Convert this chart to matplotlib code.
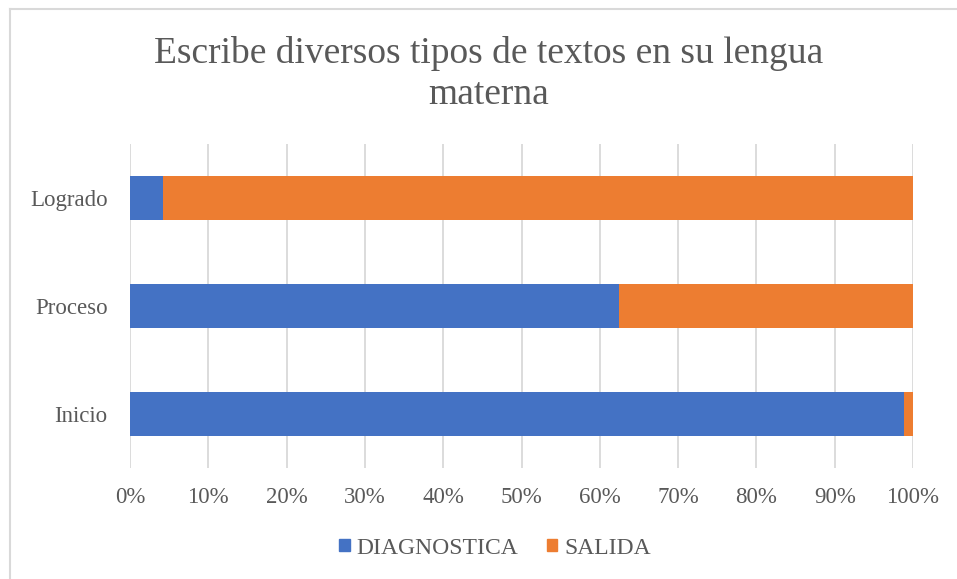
import matplotlib
matplotlib.use("Agg")
import matplotlib.pyplot as plt
from matplotlib.patches import Rectangle
from matplotlib.lines import Line2D

categories = ["Inicio", "Proceso", "Logrado"]
diagnostica = [98.8, 62.5, 4.2]
salida = [1.2, 37.5, 95.8]
series_names = ["DIAGNOSTICA", "SALIDA"]
xticks = [0, 10, 20, 30, 40, 50, 60, 70, 80, 90, 100]
title = "Escribe diversos tipos de textos en su lengua\nmaterna"

plt.rcParams['font.family'] = ['Liberation Serif', 'DejaVu Serif']
txt = "#595959"
blue = "#4472C4"
orange = "#ED7D31"

W, H = 957, 579
fig = plt.figure(figsize=(W/100, H/100), dpi=100)
ax = fig.add_axes([130/W, 1-468/H, (913-130)/W, (468-144)/H])

y = list(range(len(categories)))
ax.barh(y, diagnostica, height=0.4, color=blue, label=series_names[0], zorder=3)
ax.barh(y, salida, left=diagnostica, height=0.4, color=orange, label=series_names[1], zorder=3)

ax.set_xlim(0, 100)
ax.set_ylim(-0.5, 2.5)
ax.set_xticks(xticks)
ax.set_xticklabels([f"{v}%" for v in xticks])
ax.set_yticks(y)
ax.set_yticklabels(categories)
ax.tick_params(axis='both', length=0, labelsize=16.5, colors=txt)
ax.tick_params(axis='x', pad=14)
ax.tick_params(axis='y', pad=16)
ax.grid(axis='x', color="#D9D9D9", linewidth=1.3, zorder=0)
for s in ax.spines.values():
    s.set_visible(False)

fig.text(489/W, 1-74/H, title, ha='center', va='center', fontsize=27, color=txt, linespacing=1.25)

handles = [Rectangle((0, 0), 1, 1, color=blue), Rectangle((0, 0), 1, 1, color=orange)]
fig.legend(handles, series_names, loc='center', bbox_to_anchor=(495/W, 1-548/H), ncol=2,
           frameon=False, fontsize=17, labelcolor=txt, handlelength=0.45, handleheight=0.45,
           handletextpad=0.3, columnspacing=1.2)

# chart border (top and left visible)
fig.add_artist(Line2D([10/W, 1], [1-9/H, 1-9/H], color="#D9D9D9", linewidth=1.5, transform=fig.transFigure))
fig.add_artist(Line2D([10/W, 10/W], [0, 1-9/H], color="#D9D9D9", linewidth=1.5, transform=fig.transFigure))

fig.savefig("out.png", dpi=100, facecolor="white")
